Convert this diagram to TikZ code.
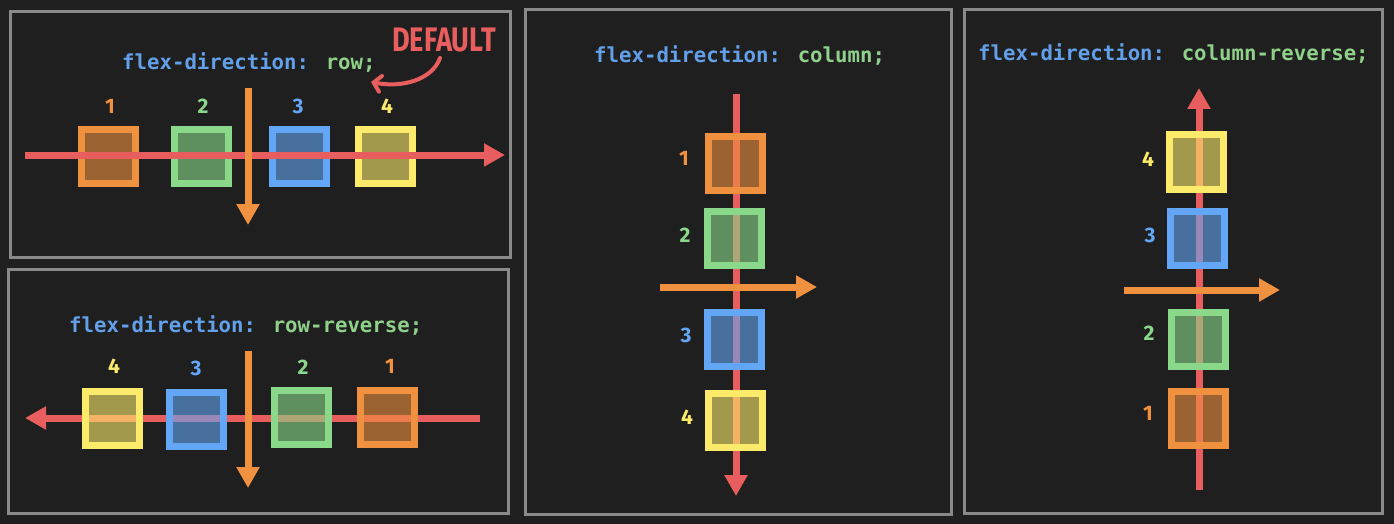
\documentclass[tikz,border=0pt]{standalone}
\usepackage{fontspec}
\newfontfamily\codefont{DejaVu Sans Mono}
\newfontfamily\handfont{Fira Sans}
\usetikzlibrary{arrows.meta}
\definecolor{bg}{HTML}{1F1F1F}
\definecolor{panelgray}{HTML}{8A8A8A}
\definecolor{codeblue}{HTML}{62A0EA}
\definecolor{codegreen}{HTML}{8FD18A}
\definecolor{cOrange}{HTML}{F0913F}
\definecolor{cGreen}{HTML}{8AD88A}
\definecolor{cBlue}{HTML}{62A6F5}
\definecolor{cYellow}{HTML}{FCEB6B}
\definecolor{axred}{HTML}{E85D5D}
\begin{document}
\begin{tikzpicture}[x=1pt,y=-1pt,
  panel/.style={draw=panelgray,line width=3pt},
  fbox/.style={rectangle,draw=#1,fill=#1,fill opacity=0.6,draw opacity=1,line width=7pt,minimum size=54pt,inner sep=0pt},
  num/.style={text=#1,inner sep=0pt,font=\handfont\bfseries\fontsize{21}{21}\selectfont},
  title/.style={anchor=base west,inner sep=0pt,font=\codefont\bfseries\fontsize{20.7}{21}\selectfont},
  mainaxis/.style={draw=axred,line width=7pt,-{Triangle[length=21pt,width=22pt]}},
  crossaxis/.style={draw=cOrange,line width=7pt,-{Triangle[length=21pt,width=22pt]}},
]
\fill[bg] (0,0) rectangle (1394,524);
\useasboundingbox (0,0) rectangle (1394,524);

% ---------- Panel 1: row ----------
\draw[panel] (10,12) rectangle (510,257);
\node[title] (t1) at (122,70) {\textcolor{codeblue}{flex-direction:} \textcolor{codegreen}{row;}};
\node[fbox=cOrange] (a1) at (108.5,156.5) {};
\node[fbox=cGreen]  (a2) at (201,156.5) {};
\node[fbox=cBlue]   (a3) at (299.5,156.5) {};
\node[fbox=cYellow] (a4) at (385.5,156.5) {};
\node[num=cOrange] (la1) at (110,106) {1};
\node[num=cGreen]  (la2) at (203,106) {2};
\node[num=cBlue]   (la3) at (298,106) {3};
\node[num=cYellow] (la4) at (387,106) {4};
\coordinate (r1s) at (25,155);
\coordinate (r1e) at (505,155);
\draw[mainaxis] (r1s) -- (r1e);
\coordinate (o1s) at (248,88);
\coordinate (o1e) at (248,225);
\draw[crossaxis] (o1s) -- (o1e);
\node[text=axred,inner sep=0pt,font=\handfont\bfseries\fontsize{34}{34}\selectfont,xscale=0.8] (def) at (444,40) {DEFAULT};
\coordinate (defend) at (371,82);
\draw[axred,line width=4pt,line cap=round,-{Straight Barb[length=7pt,width=16pt,line cap=round]}]
  (440,58) .. controls (432,80) and (402,88) .. (defend);

% ---------- Panel 2: row-reverse ----------
\draw[panel] (8,269) rectangle (508,513);
\node[title] (t2) at (69,332) {\textcolor{codeblue}{flex-direction:} \textcolor{codegreen}{row-reverse;}};
\coordinate (r2s) at (480,418);
\coordinate (r2e) at (25,418);
\draw[mainaxis] (r2s) -- (r2e);
\node[fbox=cYellow] (b4) at (112,418) {};
\node[fbox=cBlue]   (b3) at (196.5,419.5) {};
\node[fbox=cGreen]  (b2) at (301.5,417.5) {};
\node[fbox=cOrange] (b1) at (387.5,417.5) {};
\node[num=cYellow] (lb4) at (114,366) {4};
\node[num=cBlue]   (lb3) at (196,368) {3};
\node[num=cGreen]  (lb2) at (303,367) {2};
\node[num=cOrange] (lb1) at (390,366) {1};
\coordinate (o2s) at (248,351);
\coordinate (o2e) at (248,488);
\draw[crossaxis] (o2s) -- (o2e);

% ---------- Panel 3: column ----------
\draw[panel] (525,10) rectangle (951,514);
\node[title] (t3) at (594,63) {\textcolor{codeblue}{flex-direction:} \textcolor{codegreen}{column;}};
\coordinate (r3s) at (736,94);
\coordinate (r3e) at (736,496);
\draw[mainaxis] (r3s) -- (r3e);
\node[fbox=cOrange] (c1) at (735.5,163.5) {};
\node[fbox=cGreen]  (c2) at (734.5,238.5) {};
\node[fbox=cBlue]   (c3) at (734.5,339) {};
\node[fbox=cYellow] (c4) at (735.5,420.5) {};
\node[num=cOrange] (lc1) at (684,158) {1};
\node[num=cGreen]  (lc2) at (685,235) {2};
\node[num=cBlue]   (lc3) at (686,335) {3};
\node[num=cYellow] (lc4) at (687,417) {4};
\coordinate (o3s) at (660,287);
\coordinate (o3e) at (817,287);
\draw[crossaxis] (o3s) -- (o3e);

% ---------- Panel 4: column-reverse ----------
\draw[panel] (964,10) rectangle (1382,513);
\node[title] (t4) at (978,61) {\textcolor{codeblue}{flex-direction:} \textcolor{codegreen}{column-reverse;}};
\coordinate (r4s) at (1199,490);
\coordinate (r4e) at (1199,88);
\draw[mainaxis] (r4s) -- (r4e);
\node[fbox=cYellow] (d4) at (1196.5,162) {};
\node[fbox=cBlue]   (d3) at (1197.5,238.5) {};
\node[fbox=cGreen]  (d2) at (1198.5,339) {};
\node[fbox=cOrange] (d1) at (1198.5,418) {};
\node[num=cYellow] (ld4) at (1148,159) {4};
\node[num=cBlue]   (ld3) at (1150,235) {3};
\node[num=cGreen]  (ld2) at (1149,333) {2};
\node[num=cOrange] (ld1) at (1148,413) {1};
\coordinate (o4s) at (1124,290);
\coordinate (o4e) at (1280,290);
\draw[crossaxis] (o4s) -- (o4e);
\end{tikzpicture}
\end{document}
